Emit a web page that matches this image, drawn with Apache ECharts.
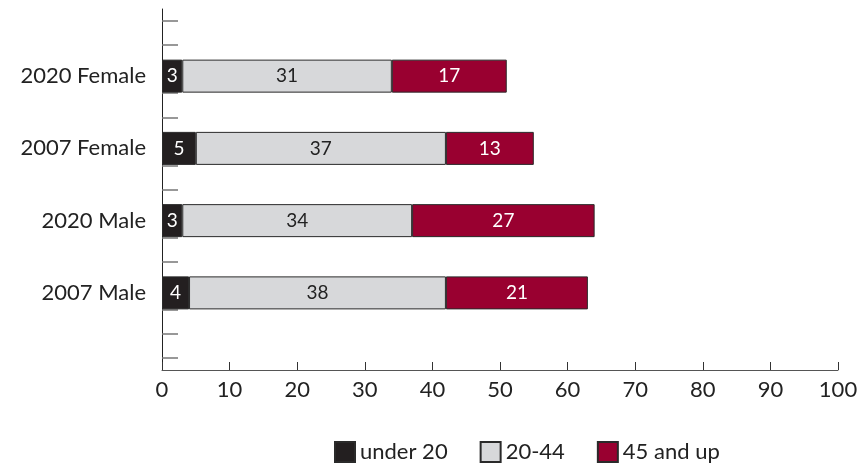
<!DOCTYPE html>
<html>
<head>
<meta charset="utf-8">
<script src="https://cdn.jsdelivr.net/npm/echarts@6/dist/echarts.min.js"></script>
<style>html,body{margin:0;padding:0;background:#fff}#c{width:868px;height:464px}</style>
</head>
<body>
<div id="c"></div>
<script>
var categories = ['2007 Male', '2020 Male', '2007 Female', '2020 Female'];
var under20 = [4, 3, 5, 3];
var age20to44 = [38, 34, 37, 31];
var age45up = [21, 27, 13, 17];
var xTicks = [0, 10, 20, 30, 40, 50, 60, 70, 80, 90, 100];
var seriesNames = ['under 20', '20-44', '45 and up'];
var minorSlots = ['', '', '', '', '', '', '', '', '', '', '', '', '', '', ''];

var FONT = 'Lato';
var chart = echarts.init(document.getElementById('c'));
function mk(name, data, color, labelColor) {
  return {
    name: name, type: 'bar', stack: 'total', xAxisIndex: 1, yAxisIndex: 1,
    barWidth: 33, data: data,
    itemStyle: { color: color, borderColor: '#2a2a2a', borderWidth: 1 },
    label: { show: true, position: 'inside', color: labelColor, fontFamily: FONT, fontSize: 19 }
  };
}
chart.setOption({
  animation: false,
  textStyle: { fontFamily: FONT },
  grid: [
    { left: 162, right: 30, top: 9, bottom: 94 },
    { left: 162, right: 30, top: 40, bottom: 135 }
  ],
  xAxis: [
    { gridIndex: 0, type: 'value', min: xTicks[0], max: xTicks[xTicks.length - 1], interval: 10,
      splitLine: { show: false },
      axisLine: { show: true, lineStyle: { color: '#555', width: 1 } },
      axisTick: { show: true, inside: true, length: 8, lineStyle: { color: '#333' } },
      axisLabel: { color: '#222', fontSize: 22, margin: 9, fontFamily: FONT } },
    { gridIndex: 1, type: 'value', min: 0, max: 100, show: false }
  ],
  yAxis: [
    { gridIndex: 0, type: 'category', data: minorSlots, boundaryGap: true,
      axisLine: { show: true, lineStyle: { color: '#222', width: 1 } },
      axisTick: { show: true, inside: true, alignWithLabel: true, length: 16, lineStyle: { color: '#777', width: 1.5 } },
      axisLabel: { show: false } },
    { gridIndex: 1, type: 'category', data: categories,
      axisLine: { show: false }, axisTick: { show: false },
      axisLabel: { color: '#222', fontSize: 22, margin: 16, fontFamily: FONT } }
  ],
  legend: {
    left: 329, top: 436, itemWidth: 20, itemHeight: 20, itemGap: 32, icon: 'rect',
    data: seriesNames,
    textStyle: { color: '#222', fontSize: 22, fontFamily: FONT }
  },
  series: [
    mk(seriesNames[0], under20, '#231f20', '#fff'),
    mk(seriesNames[1], age20to44, '#d7d8da', '#222'),
    mk(seriesNames[2], age45up, '#990030', '#fff')
  ]
});
</script>
</body>
</html>
